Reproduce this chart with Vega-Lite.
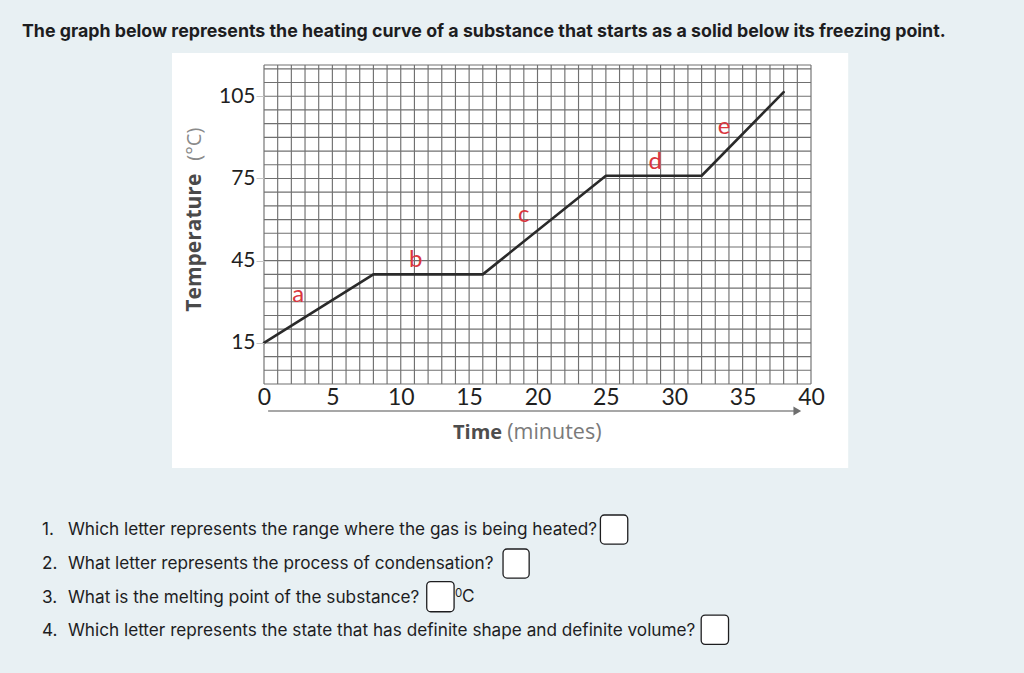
{
  "$schema": "https://vega.github.io/schema/vega-lite/v6.json",
  "width": 547,
  "height": 319,
  "autosize": {"type": "none"},
  "padding": {"left": 264, "top": 65, "right": 213, "bottom": 289},
  "background": "#e8f0f3",
  "view": {"stroke": null},
  "datasets": {
    "curve": [
      {"t": 0, "temp": 15}, {"t": 8, "temp": 40}, {"t": 16, "temp": 40},
      {"t": 25, "temp": 76}, {"t": 32, "temp": 76}, {"t": 38, "temp": 106.5}
    ],
    "letters": [
      {"t": 2.5, "temp": 32.5, "label": "a"},
      {"t": 11.1, "temp": 45.2, "label": "b"},
      {"t": 19.0, "temp": 61.7, "label": "c"},
      {"t": 28.6, "temp": 81.1, "label": "d"},
      {"t": 33.65, "temp": 93.7, "label": "e"}
    ],
    "gridX": [
      {"t": 0}, {"t": 1}, {"t": 2}, {"t": 3}, {"t": 4}, {"t": 5}, {"t": 6}, {"t": 7}, {"t": 8}, {"t": 9},
      {"t": 10}, {"t": 11}, {"t": 12}, {"t": 13}, {"t": 14}, {"t": 15}, {"t": 16}, {"t": 17}, {"t": 18}, {"t": 19},
      {"t": 20}, {"t": 21}, {"t": 22}, {"t": 23}, {"t": 24}, {"t": 25}, {"t": 26}, {"t": 27}, {"t": 28}, {"t": 29},
      {"t": 30}, {"t": 31}, {"t": 32}, {"t": 33}, {"t": 34}, {"t": 35}, {"t": 36}, {"t": 37}, {"t": 38}, {"t": 39}, {"t": 40}
    ],
    "gridY": [
      {"temp": 0}, {"temp": 5}, {"temp": 10}, {"temp": 15}, {"temp": 20}, {"temp": 25}, {"temp": 30}, {"temp": 35},
      {"temp": 40}, {"temp": 45}, {"temp": 50}, {"temp": 55}, {"temp": 60}, {"temp": 65}, {"temp": 70}, {"temp": 75},
      {"temp": 80}, {"temp": 85}, {"temp": 90}, {"temp": 95}, {"temp": 100}, {"temp": 105}, {"temp": 110}, {"temp": 115}, {"temp": 116.4}
    ],
    "questions": [
      {"num": "1.", "q": "Which letter represents the range where the gas is being heated?", "row": -53.3},
      {"num": "2.", "q": "What letter represents the process of condensation?", "row": -65.7},
      {"num": "3.", "q": "What is the melting point of the substance?", "row": -78.1},
      {"num": "4.", "q": "Which letter represents the state that has definite shape and definite volume?", "row": -90.1}
    ],
    "boxes": [
      {"q": 1, "a": 24.6, "b": 26.6, "lo": -58.4, "hi": -47.8},
      {"q": 2, "a": 17.48, "b": 19.39, "lo": -70.8, "hi": -60.2},
      {"q": 3, "a": 11.9, "b": 13.9, "lo": -83.1, "hi": -72.1},
      {"q": 4, "a": 31.97, "b": 33.97, "lo": -95.0, "hi": -84.3}
    ]
  },
  "layer": [
    {
      "data": {"values": [{"a": -6.73, "b": 42.72, "lo": -30.65, "hi": 120.8}]},
      "mark": {"type": "rect", "color": "#ffffff"},
      "encoding": {
        "x": {"field": "a", "type": "quantitative", "scale": {"domain": [0, 40], "nice": false, "zero": false},
          "axis": {"values": [0, 5, 10, 15, 20, 25, 30, 35, 40], "title": null, "grid": false, "domain": false, "ticks": false,
            "labelFont": "Lato", "labelFontSize": 23, "labelColor": "#1f1f1f", "labelPadding": 2, "labelFlush": false, "labelOverlap": false, "zindex": 1}},
        "x2": {"field": "b"},
        "y": {"field": "lo", "type": "quantitative", "scale": {"domain": [0, 116.4], "nice": false, "zero": false},
          "axis": {"values": [15, 45, 75, 105], "title": null, "grid": false, "domain": false, "ticks": true, "tickSize": 8, "tickColor": "#c4c4c4",
            "labelFont": "Lato", "labelFontSize": 21, "labelColor": "#1f1f1f", "labelPadding": 1, "zindex": 1}},
        "y2": {"field": "hi"}
      }
    },
    {
      "data": {"name": "gridX"},
      "mark": {"type": "rule", "color": "#707070", "strokeWidth": 1.15},
      "encoding": {"x": {"field": "t", "type": "quantitative"}}
    },
    {
      "data": {"name": "gridY"},
      "mark": {"type": "rule", "color": "#707070", "strokeWidth": 1.15},
      "encoding": {"y": {"field": "temp", "type": "quantitative"}}
    },
    {
      "data": {"values": [{"t": 0.3, "temp": -9.85}, {"t": 39.0, "temp": -9.85}]},
      "mark": {"type": "line", "color": "#8a8a8a", "strokeWidth": 1.5},
      "encoding": {"x": {"field": "t", "type": "quantitative"}, "y": {"field": "temp", "type": "quantitative"}}
    },
    {
      "data": {"values": [{"t": 39.0, "temp": -9.85}]},
      "mark": {"type": "point", "shape": "triangle-right", "filled": true, "color": "#6e6e6e", "size": 80, "opacity": 1},
      "encoding": {"x": {"field": "t", "type": "quantitative"}, "y": {"field": "temp", "type": "quantitative"}}
    },
    {
      "data": {"name": "curve"},
      "mark": {"type": "line", "color": "#2a2a2a", "strokeWidth": 2.6, "strokeCap": "round", "strokeJoin": "round"},
      "encoding": {"x": {"field": "t", "type": "quantitative"}, "y": {"field": "temp", "type": "quantitative"}}
    },
    {
      "data": {"name": "letters"},
      "mark": {"type": "text", "font": "Lato", "fontSize": 24, "color": "#d9363e", "baseline": "middle", "align": "center"},
      "encoding": {"x": {"field": "t", "type": "quantitative"}, "y": {"field": "temp", "type": "quantitative"}, "text": {"field": "label"}}
    },
    {
      "data": {"values": [{"t": -5.05, "temp": 26.4, "txt": "Temperature"}]},
      "mark": {"type": "text", "font": "Open Sans", "fontWeight": "bold", "fontSize": 21, "color": "#4a4a4a", "angle": 270, "align": "left", "baseline": "middle"},
      "encoding": {"x": {"field": "t", "type": "quantitative"}, "y": {"field": "temp", "type": "quantitative"}, "text": {"field": "txt"}}
    },
    {
      "data": {"values": [{"t": -5.05, "temp": 81.5, "txt": "(°C)"}]},
      "mark": {"type": "text", "font": "Open Sans", "fontSize": 20, "color": "#8a8a8a", "angle": 270, "align": "left", "baseline": "middle"},
      "encoding": {"x": {"field": "t", "type": "quantitative"}, "y": {"field": "temp", "type": "quantitative"}, "text": {"field": "txt"}}
    },
    {
      "data": {"values": [{"t": 17.41, "temp": -17.9, "txt": "Time"}]},
      "mark": {"type": "text", "font": "Open Sans", "fontWeight": "bold", "fontSize": 20, "color": "#4d4d4d", "align": "right", "baseline": "middle"},
      "encoding": {"x": {"field": "t", "type": "quantitative"}, "y": {"field": "temp", "type": "quantitative"}, "text": {"field": "txt"}}
    },
    {
      "data": {"values": [{"t": 17.78, "temp": -17.9, "txt": "(minutes)"}]},
      "mark": {"type": "text", "font": "Open Sans", "fontSize": 21.5, "color": "#7a7a7a", "align": "left", "baseline": "middle"},
      "encoding": {"x": {"field": "t", "type": "quantitative"}, "y": {"field": "temp", "type": "quantitative"}, "text": {"field": "txt"}}
    },
    {
      "data": {"values": [{"t": -17.7, "temp": 128.4, "txt": "The graph below represents the heating curve of a substance that starts as a solid below its freezing point."}]},
      "mark": {"type": "text", "font": "Inter", "fontWeight": "bold", "fontSize": 17.8, "color": "#1d1d1f", "align": "left", "baseline": "middle"},
      "encoding": {"x": {"field": "t", "type": "quantitative"}, "y": {"field": "temp", "type": "quantitative"}, "text": {"field": "txt"}}
    },
    {
      "data": {"name": "questions"},
      "mark": {"type": "text", "font": "Inter", "fontSize": 17.2, "color": "#1d1d1f", "align": "left", "baseline": "middle"},
      "encoding": {"x": {"datum": -16.24, "type": "quantitative"}, "y": {"field": "row", "type": "quantitative"}, "text": {"field": "num"}}
    },
    {
      "data": {"name": "questions"},
      "mark": {"type": "text", "font": "Inter", "fontSize": 17.2, "color": "#1d1d1f", "align": "left", "baseline": "middle"},
      "encoding": {"x": {"datum": -14.34, "type": "quantitative"}, "y": {"field": "row", "type": "quantitative"}, "text": {"field": "q"}}
    },
    {
      "data": {"name": "boxes"},
      "mark": {"type": "rect", "fill": "#ffffff", "stroke": "#1d1d1f", "strokeWidth": 1.3, "cornerRadius": 4},
      "encoding": {"x": {"field": "a", "type": "quantitative"}, "x2": {"field": "b"}, "y": {"field": "lo", "type": "quantitative"}, "y2": {"field": "hi"}}
    },
    {
      "data": {"values": [{"t": 13.97, "temp": -76.6, "txt": "0"}]},
      "mark": {"type": "text", "font": "Inter", "fontSize": 11.5, "color": "#1d1d1f", "align": "left", "baseline": "middle"},
      "encoding": {"x": {"field": "t", "type": "quantitative"}, "y": {"field": "temp", "type": "quantitative"}, "text": {"field": "txt"}}
    },
    {
      "data": {"values": [{"t": 14.48, "temp": -77.8, "txt": "C"}]},
      "mark": {"type": "text", "font": "Inter", "fontSize": 17.2, "color": "#1d1d1f", "align": "left", "baseline": "middle"},
      "encoding": {"x": {"field": "t", "type": "quantitative"}, "y": {"field": "temp", "type": "quantitative"}, "text": {"field": "txt"}}
    }
  ]
}
